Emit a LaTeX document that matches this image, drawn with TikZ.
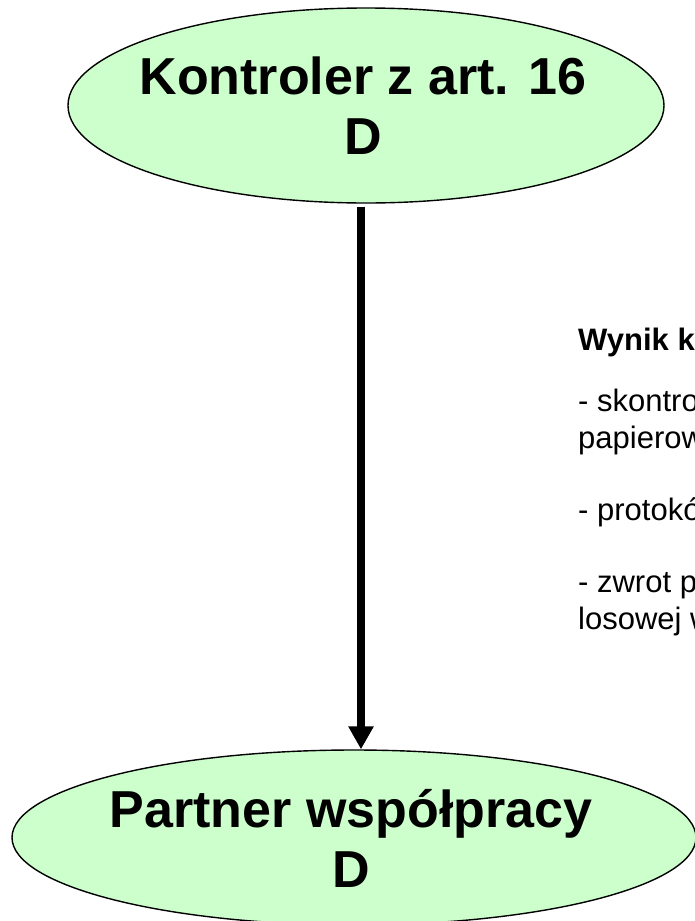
\documentclass[tikz,border=0pt]{standalone}
\usepackage{fontspec}
\setmainfont{Liberation Sans}
\usetikzlibrary{shapes.geometric,arrows.meta}
\definecolor{lightgreen}{RGB}{204,255,204}
\tikzset{
  oval/.style={ellipse, draw=black, line width=1.4pt, fill=lightgreen, inner sep=0pt},
  bigtext/.style={font=\fontsize{52}{60}\selectfont\bfseries, align=center, inner sep=0pt},
  sidetext/.style={font=\fontsize{31}{37}\selectfont, align=left, inner sep=0pt, anchor=north west},
  flow/.style={line width=8pt, -{Triangle[width=24pt,length=23pt]}}
}
\begin{document}
\begin{tikzpicture}[x=1pt,y=-1pt]
\useasboundingbox (0,0) rectangle (695,921);
\clip (0,0) rectangle (695,921);
\node[oval, minimum width=596pt, minimum height=195pt] (top) at (366,105.5) {};
\node[bigtext] (toptext) at (363,105.5) {Kontroler z art. 16\\D};
\node[oval, minimum width=684pt, minimum height=175pt] (bot) at (354,837.5) {};
\node[bigtext] (bottext) at (351,838) {Partner współpracy\\D};
\node[sidetext] (result) at (578,327.5) {\textbf{Wynik k}\\[24pt]- skontro\\papierow\\[35pt]- protokó\\[35pt]- zwrot p\\losowej w};
\draw[flow, shorten <=3pt] ([xshift=-5pt]top.south) -- ([xshift=-5pt]top.south |- bot.north);
\end{tikzpicture}
\end{document}
